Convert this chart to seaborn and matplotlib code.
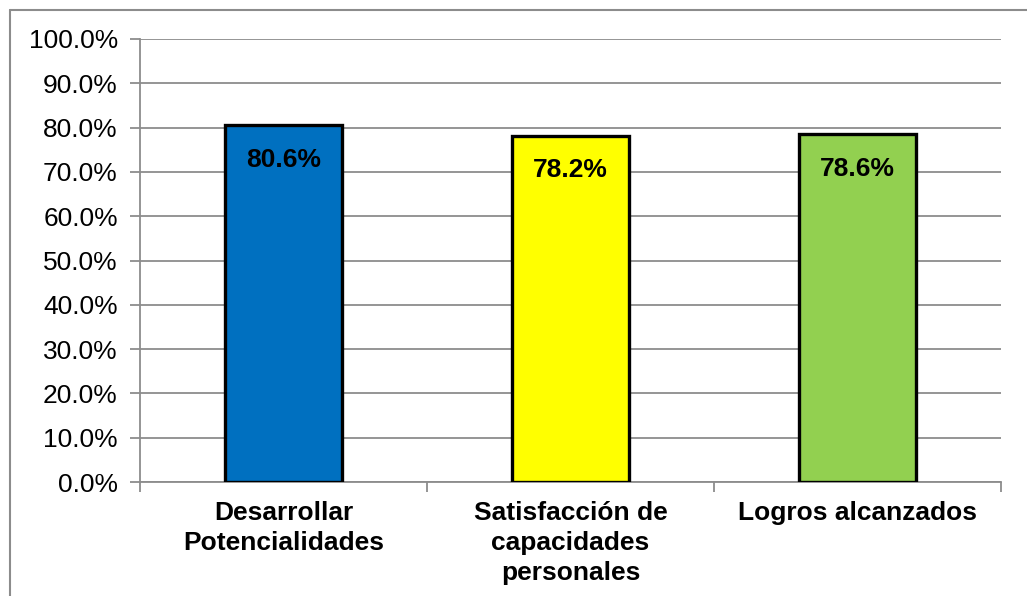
import matplotlib
matplotlib.use('Agg')
import matplotlib.pyplot as plt
import seaborn as sns
import pandas as pd
from matplotlib.lines import Line2D
from matplotlib.ticker import PercentFormatter, FixedLocator

# Data
categories = ['Desarrollar\nPotencialidades', 'Satisfacción de\ncapacidades\npersonales', 'Logros alcanzados']
values = [80.6, 78.2, 78.6]
colors = ['#0070C0', '#FFFF00', '#92D050']
yticks = [0, 10, 20, 30, 40, 50, 60, 70, 80, 90, 100]

df = pd.DataFrame({'cat': categories, 'val': values})

sns.set_style('white')
plt.rcParams['font.family'] = ['Liberation Sans', 'DejaVu Sans']
plt.rcParams['text.color'] = 'black'
plt.rcParams['xtick.color'] = 'black'
plt.rcParams['ytick.color'] = 'black'

fig = plt.figure(figsize=(10.27, 5.96), dpi=100)
ax = fig.add_axes([140 / 1027, 1 - 482 / 596, 861 / 1027, 443 / 596])

sns.barplot(data=df, x='cat', y='val', hue='cat', palette=colors, legend=False,
            saturation=1, width=0.41, edgecolor='black', linewidth=2.4, ax=ax, zorder=3)

ax.set_ylim(0, 100)
ax.set_xlim(-0.5, 2.5)
ax.yaxis.set_major_locator(FixedLocator(yticks))
ax.yaxis.set_major_formatter(PercentFormatter(decimals=1))
ax.grid(axis='y', color='#8c8c8c', linewidth=1.3, zorder=0)
ax.set_xlabel('')
ax.set_ylabel('')

for s in ['top', 'right']:
    ax.spines[s].set_visible(False)
for s in ['left', 'bottom']:
    ax.spines[s].set_color('#8c8c8c')
    ax.spines[s].set_linewidth(1.3)

ax.tick_params(axis='y', direction='out', length=7, width=1.3, color='#8c8c8c',
               labelcolor='black', labelsize=19, pad=9, left=True)
ax.tick_params(axis='x', which='major', length=0, labelsize=19, pad=14, labelcolor='black')
ax.set_xticks(range(len(categories)))
ax.set_xticklabels(categories, fontweight='bold', linespacing=1.3)
ax.set_xticks([-0.5, 0.5, 1.5, 2.5], minor=True)
ax.tick_params(axis='x', which='minor', direction='out', length=7, width=1.3,
               color='#8c8c8c', bottom=True)

for i, v in enumerate(values):
    ax.annotate(f'{v:.1f}%', xy=(i, v), xytext=(0, -25), textcoords='offset points',
                ha='center', va='center', fontsize=19, fontweight='bold',
                color='black', zorder=5)

# chart area border (top and left visible)
fig.add_artist(Line2D([10 / 1027, 1.0], [1 - 10 / 596, 1 - 10 / 596],
                      color='#8c8c8c', linewidth=1.5, transform=fig.transFigure))
fig.add_artist(Line2D([10 / 1027, 10 / 1027], [0.0, 1 - 10 / 596],
                      color='#8c8c8c', linewidth=1.5, transform=fig.transFigure))

fig.savefig('out.png', dpi=100)
